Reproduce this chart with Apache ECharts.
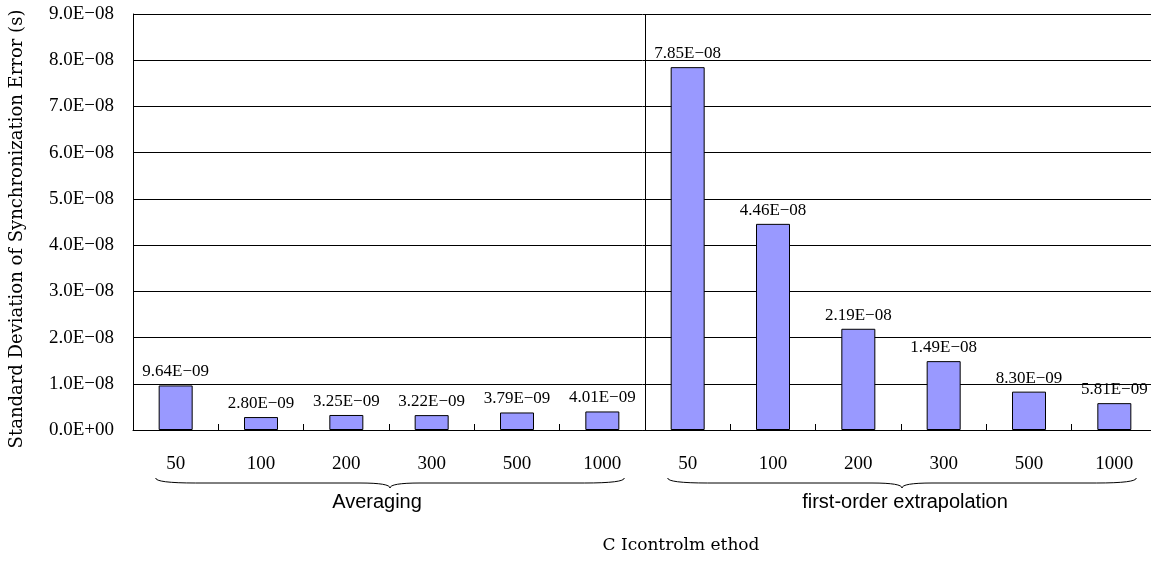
<!DOCTYPE html>
<html>
<head>
<meta charset="utf-8">
<script src="https://cdn.jsdelivr.net/npm/echarts@6/dist/echarts.min.js"></script>
<style>
  html, body { margin: 0; padding: 0; background: #fff; }
  #chart { width: 1151px; height: 561px; }
</style>
</head>
<body>
<div id="chart"></div>
<script>
// data
const categories = ['50', '100', '200', '300', '500', '1000', '50', '100', '200', '300', '500', '1000'];
const stdDev = [9.64e-9, 2.80e-9, 3.25e-9, 3.22e-9, 3.79e-9, 4.01e-9,
                7.85e-8, 4.46e-8, 2.19e-8, 1.49e-8, 8.30e-9, 5.81e-9];
const yTickLabels = ['0.0E+00', '1.0E−08', '2.0E−08', '3.0E−08', '4.0E−08',
                     '5.0E−08', '6.0E−08', '7.0E−08', '8.0E−08', '9.0E−08'];
const groupNames = ['Averaging', 'first-order extrapolation'];
const groupFirst = [0, 6];
const groupLast = [5, 11];

const serif = '"Liberation Serif", "DejaVu Serif", serif';
const wideSerif = '"DejaVu Serif", serif';

// 9.64e-9 -> 9.64E−09
function sci(v) {
  const parts = v.toExponential(2).split('e');
  const e = parseInt(parts[1], 10);
  const sign = e < 0 ? '−' : '+';
  const digits = String(Math.abs(e)).padStart(2, '0');
  return parts[0] + 'E' + sign + digits;
}

var chart = echarts.init(document.getElementById('chart'));

const option = {
  backgroundColor: '#fff',
  animation: false,
  grid: {
    left: 133,
    top: 14,
    width: 1024,
    height: 416,
    outerBoundsMode: 'none',
    containLabel: false
  },
  xAxis: {
    type: 'category',
    data: categories,
    name: 'C Icontrolm ethod',
    nameLocation: 'middle',
    nameGap: 107,
    nameTextStyle: { color: '#000', fontFamily: wideSerif, fontSize: 17, padding: [0, 0, 0, 72] },
    axisLine: { show: true, lineStyle: { color: '#000', width: 1 } },
    axisTick: {
      show: true,
      inside: true,
      length: 6,
      interval: 0,
      lineStyle: { color: '#000' }
    },
    axisLabel: {
      interval: 0,
      margin: 25,
      color: '#000',
      fontFamily: serif,
      fontSize: 19
    },
    splitLine: { show: false }
  },
  yAxis: {
    type: 'value',
    min: 0,
    max: 9e-8,
    interval: 1e-8,
    name: 'Standard Deviation of Synchronization Error (s)',
    nameLocation: 'middle',
    nameGap: 107,
    nameTextStyle: { color: '#000', fontFamily: wideSerif, fontSize: 18, padding: [0, 14, 0, 0] },
    axisLine: { show: true, lineStyle: { color: '#000', width: 1 } },
    axisTick: { show: false },
    axisLabel: {
      margin: 19,
      color: '#000',
      fontFamily: serif,
      fontSize: 19,
      formatter: function (v) { return yTickLabels[Math.round(v / 1e-8)]; }
    },
    splitLine: { show: true, lineStyle: { color: '#000', width: 1 } }
  },
  series: [
    {
      type: 'bar',
      data: stdDev,
      barWidth: 34,
      itemStyle: {
        color: '#9999ff',
        borderColor: '#000',
        borderWidth: 1
      },
      label: {
        show: true,
        position: 'top',
        distance: 5,
        color: '#000',
        fontFamily: serif,
        fontSize: 17,
        formatter: function (p) { return sci(p.value); }
      }
    }
  ]
};
chart.setOption(option);

// divider between the two groups, braces and group names under the labels
function buildGroups() {
  const els = [];
  const yTop = 478, yMid = 483, yTip = 488;
  const labelShift = [-13, 3];
  const stroke = { stroke: '#000', lineWidth: 1, fill: null };

  const xa = chart.convertToPixel({ xAxisIndex: 0 }, groupLast[0]);
  const xb = chart.convertToPixel({ xAxisIndex: 0 }, groupFirst[1]);
  const y0 = chart.convertToPixel({ yAxisIndex: 0 }, 0);
  const y9 = chart.convertToPixel({ yAxisIndex: 0 }, 9e-8);
  const xd = Math.round((xa + xb) / 2) + 0.5;
  els.push({ type: 'line', shape: { x1: xd, y1: y9, x2: xd, y2: y0 }, style: { stroke: '#000', lineWidth: 1 } });

  for (let g = 0; g < groupNames.length; g++) {
    const x1 = chart.convertToPixel({ xAxisIndex: 0 }, groupFirst[g]) - 20;
    const x2 = chart.convertToPixel({ xAxisIndex: 0 }, groupLast[g]) + 22;
    const xm = (x1 + x2) / 2;
    // left hook, left run, centre tip, right run, right hook
    els.push({ type: 'bezierCurve', shape: { x1: x1, y1: yTop, cpx1: x1, cpy1: yMid, x2: x1 + 40, y2: yMid }, style: stroke });
    els.push({ type: 'line', shape: { x1: x1 + 40, y1: yMid, x2: xm - 30, y2: yMid }, style: stroke });
    els.push({ type: 'bezierCurve', shape: { x1: xm - 30, y1: yMid, cpx1: xm, cpy1: yMid, x2: xm, y2: yTip }, style: stroke });
    els.push({ type: 'bezierCurve', shape: { x1: xm, y1: yTip, cpx1: xm, cpy1: yMid, x2: xm + 30, y2: yMid }, style: stroke });
    els.push({ type: 'line', shape: { x1: xm + 30, y1: yMid, x2: x2 - 40, y2: yMid }, style: stroke });
    els.push({ type: 'bezierCurve', shape: { x1: x2 - 40, y1: yMid, cpx1: x2, cpy1: yMid, x2: x2, y2: yTop }, style: stroke });
    els.push({
      type: 'text',
      x: xm + labelShift[g],
      y: 502,
      style: {
        text: groupNames[g],
        fill: '#000',
        font: '20px "Liberation Sans", Arial, sans-serif',
        align: 'center',
        verticalAlign: 'middle'
      }
    });
  }
  chart.setOption({ graphic: els });
}
buildGroups();
</script>
</body>
</html>
